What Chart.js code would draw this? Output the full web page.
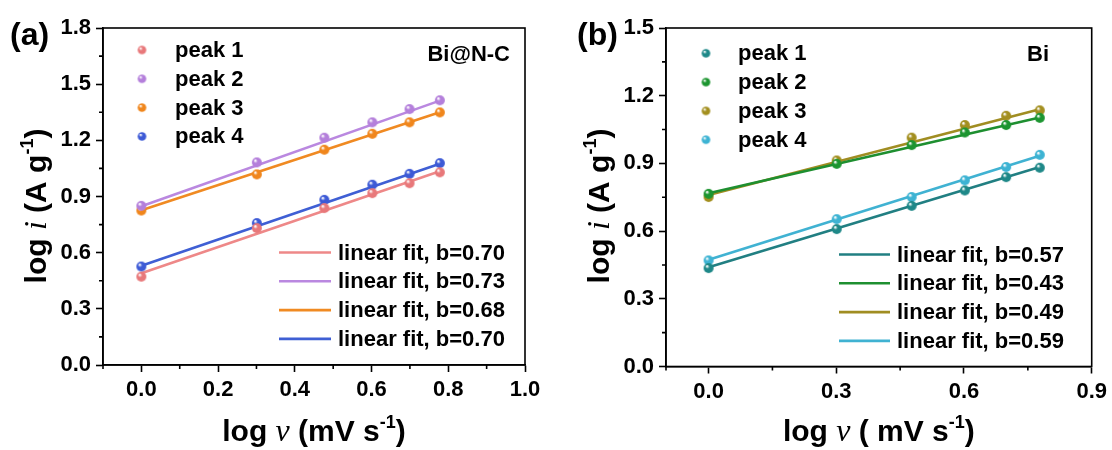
<!DOCTYPE html>
<html>
<head>
<meta charset="utf-8">
<script src="https://cdn.jsdelivr.net/npm/chart.js@4.4.1/dist/chart.umd.min.js"></script>
<style>
html, body { margin: 0; padding: 0; background: #fff; }
#wrap { position: relative; width: 1112px; height: 450px; }
.panel { position: absolute; top: 0; width: 556px; height: 450px; }
</style>
</head>
<body>
<div id="wrap">
  <div class="panel" style="left:0"><canvas id="chartA"></canvas></div>
  <div class="panel" style="left:556px"><canvas id="chartB"></canvas></div>
</div>
<script>
// log of scan rate (1..6 mV/s)
const logV = [0, 0.301, 0.477, 0.602, 0.699, 0.778];
const fitX = [0, 0.778];
const peakNames = ["peak 1", "peak 2", "peak 3", "peak 4"];

// (a) Bi@N-C
const aPeak1 = [0.472, 0.731, 0.838, 0.918, 0.971, 1.029];
const aPeak2 = [0.850, 1.082, 1.214, 1.296, 1.367, 1.414];
const aPeak3 = [0.825, 1.018, 1.150, 1.235, 1.296, 1.349];
const aPeak4 = [0.526, 0.758, 0.882, 0.963, 1.021, 1.078];
const aFitStart = [0.490, 0.848, 0.826, 0.530];
const aFitEnd = [1.035, 1.412, 1.350, 1.075];
const aB = ["0.70", "0.73", "0.68", "0.70"];
const aXTicks = [0, 0.2, 0.4, 0.6, 0.8, 1.0];
const aXMinor = [-0.1, 0.1, 0.3, 0.5, 0.7, 0.9];
const aYTicks = [0, 0.3, 0.6, 0.9, 1.2, 1.5, 1.8];
const aYMinor = [0.15, 0.45, 0.75, 1.05, 1.35, 1.65];

// (b) Bi
const bPeak1 = [0.436, 0.609, 0.712, 0.780, 0.839, 0.881];
const bPeak2 = [0.765, 0.898, 0.981, 1.037, 1.070, 1.102];
const bPeak3 = [0.751, 0.913, 1.014, 1.070, 1.111, 1.135];
const bPeak4 = [0.470, 0.653, 0.751, 0.825, 0.884, 0.938];
const bFitStart = [0.440, 0.768, 0.760, 0.473];
const bFitEnd = [0.884, 1.103, 1.140, 0.934];
const bB = ["0.57", "0.43", "0.49", "0.59"];
const bXTicks = [0, 0.3, 0.6, 0.9];
const bXMinor = [-0.1, 0.15, 0.45, 0.75];
const bYTicks = [0, 0.3, 0.6, 0.9, 1.2, 1.5];
const bYMinor = [0.15, 0.45, 0.75, 1.05, 1.35];

const aColors = ["#E8787A", "#B47FDB", "#F0861C", "#3D5AD6"];
const aLineColors = ["#EE8888", "#BA88E0", "#F08A22", "#3F5FD4"];
const bColors = ["#1E8888", "#1C9530", "#A38F1F", "#3DB3D3"];
const bLineColors = ["#217F82", "#1E8F30", "#A08D22", "#40B2D2"];

const SANS = "'Liberation Sans', Arial, sans-serif";
const SERIF = "'Liberation Serif', 'Times New Roman', serif";

// little shaded ball used as point style
function ball(color, r) {
  const c = document.createElement("canvas");
  const s = Math.ceil(r * 2 + 2);
  c.width = s; c.height = s;
  const g = c.getContext("2d");
  const cx = s / 2, cy = s / 2;
  const grad = g.createRadialGradient(cx - r * 0.35, cy - r * 0.4, r * 0.1, cx, cy, r);
  grad.addColorStop(0, "#ffffff");
  grad.addColorStop(0.35, color);
  grad.addColorStop(1, color);
  g.fillStyle = grad;
  g.beginPath();
  g.arc(cx, cy, r, 0, Math.PI * 2);
  g.fill();
  return c;
}

function toPts(xs, ys) {
  return xs.map((x, i) => ({ x: x, y: ys[i] }));
}

// draw a run of text pieces with different fonts
function richText(ctx, parts, x, y, angle) {
  ctx.save();
  ctx.translate(x, y);
  ctx.rotate(angle || 0);
  let total = 0;
  parts.forEach(p => { ctx.font = p.font; total += ctx.measureText(p.t).width; });
  let cx = -total / 2;
  ctx.fillStyle = "#000";
  ctx.textBaseline = "alphabetic";
  parts.forEach(p => {
    ctx.font = p.font;
    ctx.fillText(p.t, cx, p.dy || 0);
    cx += ctx.measureText(p.t).width;
  });
  ctx.restore();
}

function titleParts(sym, unit1, sup, symFont) {
  const b = "bold 30px " + SANS;
  return [
    { t: "log ", font: b },
    { t: sym, font: symFont },
    { t: unit1, font: b },
    { t: sup, font: "bold 18px " + SANS, dy: -13 },
    { t: ")", font: b }
  ];
}

function makeChart(id, cfg) {
  const dots = [], lines = [];
  cfg.peaks.forEach((ys, i) => {
    dots.push({
      label: peakNames[i],
      data: toPts(logV, ys),
      showLine: false,
      pointStyle: ball(cfg.colors[i], 5),
      pointRadius: 5,
      order: 1
    });
    lines.push({
      label: "linear fit, b=" + cfg.b[i],
      data: toPts(fitX, [cfg.fitStart[i], cfg.fitEnd[i]]),
      showLine: true,
      borderColor: cfg.lineColors[i],
      borderWidth: 2.6,
      pointRadius: 0,
      order: 2
    });
  });

  const boxPlugin = {
    id: "box",
    afterDraw(chart) {
      const ctx = chart.ctx, a = chart.chartArea;
      const xs = chart.scales.x, ysc = chart.scales.y;
      ctx.save();
      ctx.strokeStyle = "#000";
      ctx.lineWidth = 1.6;
      ctx.strokeRect(a.left, a.top, a.right - a.left, a.bottom - a.top);
      // minor ticks
      ctx.beginPath();
      cfg.xMinor.forEach(v => {
        const px = xs.getPixelForValue(v);
        ctx.moveTo(px, a.bottom); ctx.lineTo(px, a.bottom + 4);
      });
      cfg.yMinor.forEach(v => {
        const py = ysc.getPixelForValue(v);
        ctx.moveTo(a.left, py); ctx.lineTo(a.left - 4, py);
      });
      ctx.stroke();

      // legends
      ctx.textBaseline = "middle";
      ctx.textAlign = "left";
      ctx.font = "bold 22px " + SANS;
      ctx.fillStyle = "#000";
      const lg = cfg.legend;
      for (let i = 0; i < 4; i++) {
        const y = lg.dotY + i * lg.step;
        const img = ball(cfg.colors[i], 4.3);
        ctx.drawImage(img, lg.dotX - img.width / 2, y - img.height / 2);
        ctx.fillText(peakNames[i], lg.dotTextX, y + 1);
      }
      for (let i = 0; i < 4; i++) {
        const y = lg.lineY + i * lg.step;
        ctx.strokeStyle = cfg.lineColors[i];
        ctx.lineWidth = 2.6;
        ctx.beginPath();
        ctx.moveTo(lg.lineX0, y); ctx.lineTo(lg.lineX1, y);
        ctx.stroke();
        ctx.fillText("linear fit, b=" + cfg.b[i], lg.lineTextX, y + 1);
      }
      ctx.textAlign = "right";
      ctx.fillText(cfg.sample, lg.sampleX, lg.sampleY);

      // panel tag
      ctx.textAlign = "left";
      ctx.textBaseline = "alphabetic";
      ctx.font = "bold 32px " + SANS;
      ctx.fillText(cfg.tag, cfg.tagX, 45);

      // axis titles
      const cxm = (a.left + a.right) / 2;
      richText(ctx, titleParts("ν", cfg.xUnit, "-1", "italic 32px " + SERIF), cxm, 441);
      richText(ctx, titleParts("i", " (A g", "-1", "italic 32px " + SERIF), cfg.yTitleX, cfg.yTitleY, -Math.PI / 2);
      ctx.restore();
    }
  };

  const tickFont = { family: SANS, size: 22, weight: "bold" };

  return new Chart(document.getElementById(id), {
    type: "scatter",
    data: { datasets: dots.concat(lines) },
    options: {
      responsive: true,
      maintainAspectRatio: false,
      animation: false,
      layout: { padding: { top: cfg.padTop, right: cfg.padRight, left: 0, bottom: 0 } },
      plugins: { legend: { display: false }, tooltip: { enabled: false } },
      scales: {
        x: {
          type: "linear",
          min: cfg.xMin, max: cfg.xMax,
          afterBuildTicks(s) { s.ticks = cfg.xTicks.map(v => ({ value: v })); },
          afterFit(s) { s.height = cfg.xHeight; },
          ticks: { color: "#000", font: tickFont, padding: 5, maxRotation: 0,
                   callback: v => Number(v).toFixed(1) },
          grid: { drawOnChartArea: false, drawTicks: true, tickLength: 7, tickColor: "#000", tickWidth: 1.6 },
          border: { display: true, color: "#000", width: 1.6 }
        },
        y: {
          type: "linear",
          min: cfg.yMin, max: cfg.yMax,
          afterBuildTicks(s) { s.ticks = cfg.yTicks.map(v => ({ value: v })); },
          afterFit(s) { s.width = cfg.yWidth; },
          ticks: { color: "#000", font: tickFont, padding: 5,
                   callback: v => Number(v).toFixed(1) },
          grid: { drawOnChartArea: false, drawTicks: true, tickLength: 7, tickColor: "#000", tickWidth: 1.6 },
          border: { display: true, color: "#000", width: 1.6 }
        }
      }
    },
    plugins: [boxPlugin]
  });
}

makeChart("chartA", {
  peaks: [aPeak1, aPeak2, aPeak3, aPeak4],
  fitStart: aFitStart, fitEnd: aFitEnd, b: aB,
  colors: aColors, lineColors: aLineColors,
  xMin: -0.1, xMax: 1.0, yMin: 0, yMax: 1.8,
  xTicks: aXTicks, xMinor: aXMinor, yTicks: aYTicks, yMinor: aYMinor,
  padTop: 28, padRight: 31, yWidth: 103, xHeight: 85,
  legend: { dotX: 142, dotTextX: 175, dotY: 50, step: 28.8,
            lineX0: 279, lineX1: 331, lineTextX: 338, lineY: 252.5,
            sampleX: 510, sampleY: 55 },
  sample: "Bi@N-C", tag: "(a)", tagX: 10,
  xUnit: " (mV s", yTitleX: 46, yTitleY: 206
});

makeChart("chartB", {
  peaks: [bPeak1, bPeak2, bPeak3, bPeak4],
  fitStart: bFitStart, fitEnd: bFitEnd, b: bB,
  colors: bColors, lineColors: bLineColors,
  xMin: -0.1, xMax: 0.9, yMin: 0, yMax: 1.5,
  xTicks: bXTicks, xMinor: bXMinor, yTicks: bYTicks, yMinor: bYMinor,
  padTop: 28, padRight: 19, yWidth: 110, xHeight: 83.5,
  legend: { dotX: 150, dotTextX: 182, dotY: 53.3, step: 28.8,
            lineX0: 283, lineX1: 334, lineTextX: 341, lineY: 254.5,
            sampleX: 493, sampleY: 55 },
  sample: "Bi", tag: "(b)", tagX: 21,
  xUnit: " ( mV s", yTitleX: 53, yTitleY: 206
});
</script>
</body>
</html>
